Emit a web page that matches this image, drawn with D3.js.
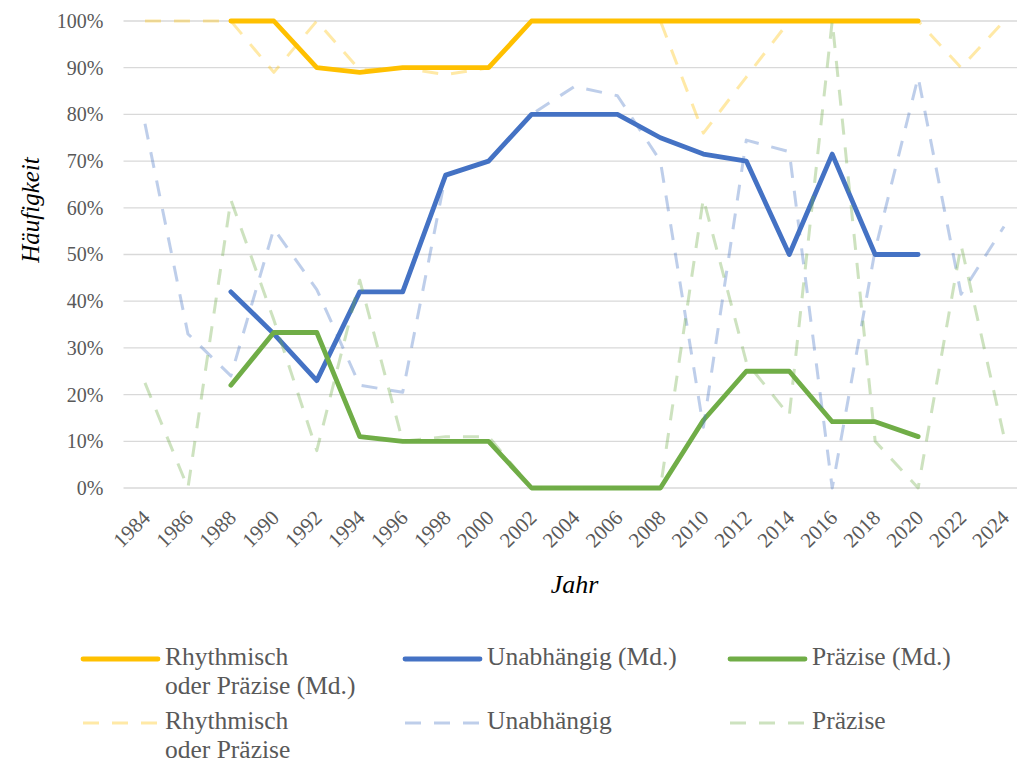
<!DOCTYPE html>
<html>
<head>
<meta charset="utf-8">
<script src="https://cdn.jsdelivr.net/npm/d3@7"></script>
<style>
  body { margin: 0; background: #fff; }
  #chart { width: 1017px; height: 764px; overflow: hidden; }
  svg text { font-family: "Liberation Serif", "DejaVu Serif", serif; }
</style>
</head>
<body>
<div id="chart"></div>
<script>
// data
const years = [1984, 1986, 1988, 1990, 1992, 1994, 1996, 1998, 2000, 2002, 2004,
               2006, 2008, 2010, 2012, 2014, 2016, 2018, 2020, 2022, 2024]

// medians (solid)
const rhythmMd = [null, null, 100, 100, 90, 89, 90, 90, 90, 100, 100,
                  100, 100, 100, 100, 100, 100, 100, 100, null, null]
const unabhMd  = [null, null, 42, 33, 23, 42, 42, 67, 70, 80, 80,
                  80, 75, 71.5, 70, 50, 71.5, 50, 50, null, null]
const praezMd  = [null, null, 22, 33.3, 33.3, 11, 10, 10, 10, 0, 0,
                  0, 0, 14.5, 25, 25, 14.2, 14.2, 11, null, null]

// yearly values (dashed)
const rhythm = [100, 100, 100, 89, 100, 89.5, 90, 88.5, 90, 100, 100,
                100, 100, 76, 88, 100, 100, 100, 100, 90, 100]
const unabh  = [78, 33, 24, 55.5, 42.5, 22, 20.5, 67, 70, 80, 86,
                84, 70, 13, 74.5, 72, 0, 51, 88, 41.5, 56]
const praez  = [22.5, 0, 61.7, 36, 8, 44.5, 10, 11, 11, 0, 0,
                0, 0, 62, 27, 15.5, 100, 10, 0, 52, 11]

const yTicks = [0, 10, 20, 30, 40, 50, 60, 70, 80, 90, 100]

const series = [
  { name: ['Rhythmisch', 'oder Präzise (Md.)'], values: rhythmMd, color: '#FFC000', dashed: false },
  { name: ['Unabhängig (Md.)'], values: unabhMd, color: '#4472C4', dashed: false },
  { name: ['Präzise (Md.)'], values: praezMd, color: '#70AD47', dashed: false },
  { name: ['Rhythmisch', 'oder Präzise'], values: rhythm, color: '#FFC000', dashed: true },
  { name: ['Unabhängig'], values: unabh, color: '#4472C4', dashed: true },
  { name: ['Präzise'], values: praez, color: '#70AD47', dashed: true },
]

const serif = '"Liberation Serif", "DejaVu Serif", serif'

// dimensions
let dimensions = {
  width: 1017,
  height: 764,
  margin: { top: 21, left: 123.5 },
  ctrWidth: 902,
  ctrHeight: 467,
}

const svg = d3.select('#chart')
  .append('svg')
  .attr('width', dimensions.width)
  .attr('height', dimensions.height)

const ctr = svg.append('g')
  .attr('transform', `translate(${dimensions.margin.left}, ${dimensions.margin.top})`)

// scales
const xScale = d3.scalePoint()
  .domain(years)
  .range([0, dimensions.ctrWidth])
  .padding(0.5)

const yScale = d3.scaleLinear()
  .domain([0, 100])
  .range([dimensions.ctrHeight, 0])

// gridlines
ctr.append('g')
  .selectAll('line')
  .data(yTicks)
  .join('line')
  .attr('x1', 0)
  .attr('x2', dimensions.ctrWidth)
  .attr('y1', d => yScale(d))
  .attr('y2', d => yScale(d))
  .attr('stroke', '#d9d9d9')
  .attr('stroke-width', 1.3)

// axes
const yAxis = d3.axisLeft(yScale)
  .tickValues(yTicks)
  .tickFormat(d => d + '%')
  .tickSize(0)
  .tickPadding(20)

const yAxisGroup = ctr.append('g').call(yAxis)
  .attr('font-family', serif)
yAxisGroup.select('.domain').remove()
yAxisGroup.selectAll('text')
  .attr('fill', '#595959')
  .style('font-family', serif)
  .style('font-size', '20px')

const xAxis = d3.axisBottom(xScale).tickSize(0)
const xAxisGroup = ctr.append('g')
  .attr('transform', `translate(0, ${dimensions.ctrHeight})`)
  .call(xAxis)
  .attr('font-family', serif)
xAxisGroup.select('.domain').remove()
xAxisGroup.selectAll('text')
  .attr('fill', '#595959')
  .style('font-family', serif)
  .style('font-size', '21px')
  .attr('text-anchor', 'end')
  .attr('dy', 0)
  .attr('y', 0)
  .attr('transform', 'translate(6, 31) rotate(-45)')

// axis titles
svg.append('text')
  .attr('transform', 'translate(39, 210) rotate(-90)')
  .attr('text-anchor', 'middle')
  .attr('fill', '#000')
  .style('font-size', '25px')
  .style('font-style', 'italic')
  .text('Häufigkeit')

svg.append('text')
  .attr('x', dimensions.margin.left + 451)
  .attr('y', 593)
  .attr('text-anchor', 'middle')
  .attr('fill', '#000')
  .style('font-size', '26px')
  .style('font-style', 'italic')
  .text('Jahr')

// lines
const line = d3.line()
  .defined(d => d.v !== null)
  .x(d => xScale(d.year))
  .y(d => yScale(d.v))

ctr.selectAll('path.series')
  .data(series)
  .join('path')
  .attr('class', 'series')
  .attr('d', s => line(years.map((year, i) => ({ year, v: s.values[i] }))))
  .attr('fill', 'none')
  .attr('stroke', s => s.color)
  .attr('stroke-opacity', s => s.dashed ? 0.35 : 1)
  .attr('stroke-width', s => s.dashed ? 3 : 4.8)
  .attr('stroke-dasharray', s => s.dashed ? '16,13' : null)
  .attr('stroke-linejoin', 'round')
  .attr('stroke-linecap', s => s.dashed ? 'butt' : 'round')

// legend
const legendCols = [83, 405, 730]
const legendRows = [659, 723]

const legend = svg.append('g')
  .selectAll('g')
  .data(series)
  .join('g')
  .attr('transform', (s, i) => `translate(${legendCols[i % 3]}, ${legendRows[Math.floor(i / 3)]})`)

legend.append('line')
  .attr('x1', 0)
  .attr('x2', 75)
  .attr('stroke', s => s.color)
  .attr('stroke-opacity', s => s.dashed ? 0.35 : 1)
  .attr('stroke-width', s => s.dashed ? 3 : 4.8)
  .attr('stroke-dasharray', s => s.dashed ? '16,13' : null)
  .attr('stroke-linecap', s => s.dashed ? 'butt' : 'round')

legend.append('text')
  .attr('x', 82)
  .attr('y', 6)
  .attr('fill', '#595959')
  .style('font-size', '25.5px')
  .selectAll('tspan')
  .data(s => s.name)
  .join('tspan')
  .attr('x', 82)
  .attr('dy', (d, i) => i === 0 ? 0 : 29)
  .text(d => d)
</script>
</body>
</html>
